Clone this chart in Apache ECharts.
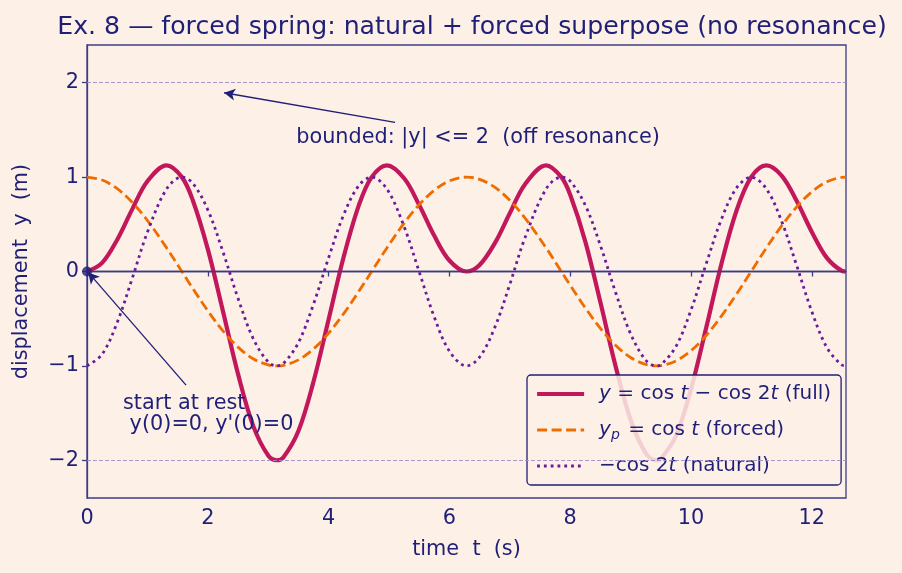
<!DOCTYPE html>
<html>
<head>
<meta charset="utf-8">
<script src="https://cdn.jsdelivr.net/npm/echarts@6/dist/echarts.min.js"></script>
<style>
  html, body { margin: 0; padding: 0; background: #fdf0e6; }
  #chart { width: 902px; height: 573px; }
</style>
</head>
<body>
<div id="chart"></div>
<script>
// time samples (s), extrema included
const tVals = [0, 0.25, 0.5, 0.75, 1, 1.3181, 1.5708, 1.75, 2, 2.25, 2.5, 2.75, 3, 3.1416,
  3.25, 3.5, 3.75, 4, 4.25, 4.5, 4.7124, 4.9651, 5.25, 5.5, 5.75, 6, 6.2832, 6.5, 6.75, 7,
  7.25, 7.6013, 7.854, 8, 8.25, 8.5, 8.75, 9, 9.25, 9.4248, 9.5, 9.75, 10, 10.25, 10.5,
  10.75, 10.9956, 11.2483, 11.5, 11.75, 12, 12.25, 12.5, 12.566]
// full response y
const fullVals = [0, 0.0913, 0.3373, 0.661, 0.9564, 1.125, 1, 0.7583, 0.2375, -0.4174,
  -1.0848, -1.633, -1.9502, -2, -1.9707, -1.6904, -1.1672, -0.5081, 0.1559, 0.7003, 1,
  1.125, 0.9876, 0.7043, 0.3777, 0.1163, 0, 0.0692, 0.298, 0.6172, 0.9229, 1.125, 1,
  0.8122, 0.3167, -0.3268, -1.0001, -1.5714, -1.9243, -2, -1.9859, -1.7434, -1.2472,
  -0.5991, 0.0722, 0.6386, 1, 1.125, 1.0161, 0.7469, 0.4197, 0.144, 0.0066, 0]
// forced part y_p
const forcedVals = [1, 0.9689, 0.8776, 0.7317, 0.5403, 0.25, 0, -0.1782, -0.4161, -0.6282,
  -0.8011, -0.9243, -0.99, -1, -0.9941, -0.9365, -0.8206, -0.6536, -0.4461, -0.2108, 0,
  0.25, 0.5121, 0.7087, 0.861, 0.9602, 1, 0.9766, 0.893, 0.7539, 0.568, 0.25, 0, -0.1455,
  -0.3857, -0.602, -0.7807, -0.9111, -0.9848, -1, -0.9972, -0.9476, -0.8391, -0.6786,
  -0.4755, -0.2432, 0, 0.25, 0.4833, 0.685, 0.8439, 0.9504, 0.9978, 1]
// natural part
const naturalVals = [-1, -0.8776, -0.5403, -0.0707, 0.4161, 0.875, 1, 0.9365, 0.6536,
  0.2108, -0.2837, -0.7087, -0.9602, -1, -0.9766, -0.7539, -0.3466, 0.1455, 0.602, 0.9111,
  1, 0.875, 0.4755, -0.0044, -0.4833, -0.8439, -1, -0.9074, -0.595, -0.1367, 0.3549, 0.875,
  1, 0.9577, 0.7024, 0.2752, -0.2194, -0.6603, -0.9395, -1, -0.9887, -0.7958, -0.4081,
  0.0795, 0.5477, 0.8818, 1, 0.875, 0.5328, 0.0619, -0.4242, -0.8064, -0.9912, -1]
const xTicks = [0, 2, 4, 6, 8, 10, 12]
const yTicks = [-2, -1, 0, 1, 2]
const refLines = [2, -2]

const navy = '#1f1f78'
const axisColor = '#3c3c86'
const font = 'DejaVu Sans'
const fs = 20.8

function pairs(ys) {
  return tVals.map((t, i) => [t, ys[i]])
}

const chart = echarts.init(document.getElementById('chart'))

const option = {
  backgroundColor: '#fdf0e6',
  animation: false,
  title: {
    text: 'Ex. 8 — forced spring: natural + forced superpose (no resonance)',
    left: 467,
    textAlign: 'center',
    top: 10,
    textStyle: { color: navy, fontFamily: font, fontSize: 25.2, fontWeight: 'normal' }
  },
  grid: {
    left: 87, right: 56, top: 45, bottom: 75,
    show: true, borderColor: axisColor, borderWidth: 1.3, backgroundColor: 'transparent'
  },
  legend: {
    orient: 'vertical',
    left: 527, top: 375,
    padding: [7, 10, 7, 8],
    itemWidth: 47, itemHeight: 14, itemGap: 12,
    backgroundColor: 'rgba(253,240,230,0.85)',
    borderColor: navy, borderWidth: 1.3, borderRadius: 4,
    itemStyle: { opacity: 0 },
    data: [
      { name: 'full', lineStyle: { width: 4.2 } },
      { name: 'forced', lineStyle: { width: 2.8 } },
      { name: 'natural', lineStyle: { width: 2.8 } }
    ],
    formatter: name => {
      if (name === 'full') return '{i|y} = cos {i|t} − cos 2{i|t} (full)'
      if (name === 'forced') return '{i|y}{s|p} = cos {i|t} (forced)'
      return '−cos 2{i|t} (natural)'
    },
    textStyle: {
      color: navy, fontFamily: font, fontSize: 20, lineHeight: 24, padding: [0, 0, 0, 10],
      rich: {
        i: { fontStyle: 'italic', color: navy, fontFamily: font, fontSize: 20 },
        s: { fontStyle: 'italic', color: navy, fontFamily: font, fontSize: 14, verticalAlign: 'bottom', padding: [8, 2, 0, 0] }
      }
    }
  },
  xAxis: {
    type: 'value', min: 0, max: 12.566,
    name: 'time  t  (s)', nameLocation: 'middle', nameGap: 41,
    nameTextStyle: { color: navy, fontFamily: font, fontSize: fs },
    axisLine: { lineStyle: { color: axisColor, width: 1.3 } },
    axisTick: { show: true, length: 5, customValues: xTicks, lineStyle: { color: axisColor, width: 1.3 } },
    axisLabel: { customValues: xTicks, color: navy, fontFamily: font, fontSize: fs, margin: 10 },
    splitLine: { show: false }
  },
  yAxis: {
    type: 'value', min: -2.4, max: 2.4,
    name: 'displacement  y  (m)', nameLocation: 'middle', nameGap: 55,
    nameTextStyle: { color: navy, fontFamily: font, fontSize: fs },
    axisLine: { show: true, lineStyle: { color: axisColor, width: 1.3 } },
    axisTick: { show: true, length: 5, customValues: yTicks, lineStyle: { color: axisColor, width: 1.3 } },
    axisLabel: {
      customValues: yTicks, color: navy, fontFamily: font, fontSize: fs, margin: 8,
      formatter: v => String(v).replace('-', '−')
    },
    splitLine: { show: false }
  },
  series: [
    {
      name: 'full', type: 'line', data: pairs(fullVals),
      smooth: 0.35, symbol: 'none', z: 3,
      color: '#c2185b',
      lineStyle: { color: '#c2185b', width: 4.2 },
      markLine: {
        silent: true, symbol: 'none', label: { show: false },
        data: refLines.map(v => ({
          yAxis: v, lineStyle: { color: '#9c8cc4', width: 0.9, type: [4, 2] }
        })).concat([{ yAxis: 0, lineStyle: { color: axisColor, width: 1.3, type: 'solid' } }])
      }
    },
    {
      name: 'forced', type: 'line', data: pairs(forcedVals),
      smooth: 0.35, symbol: 'none', z: 4,
      color: '#ef6c00',
      lineStyle: { color: '#ef6c00', width: 2.8, type: [10, 4.5] }
    },
    {
      name: 'natural', type: 'line', data: pairs(naturalVals),
      smooth: 0.35, symbol: 'none', z: 5,
      color: '#6a1b9a',
      lineStyle: { color: '#6a1b9a', width: 2.8, type: [2.8, 4] }
    },
    {
      // annotations: start point, arrows, text
      name: 'notes', type: 'scatter', data: [[0, 0]], z: 6,
      symbolSize: 10, clip: false, silent: true,
      itemStyle: { color: navy },
      markLine: {
        silent: true, symbol: ['none', 'arrow'], symbolSize: [9, 11],
        label: { show: false },
        lineStyle: { color: navy, width: 1.3, type: 'solid' },
        data: [
          [{ coord: [5.1, 1.58] }, { coord: [2.27, 1.894] }],
          [{ coord: [1.64, -1.204] }, { coord: [0.02, -0.01] }]
        ]
      },
      markPoint: {
        silent: true, symbol: 'circle', symbolSize: 1,
        itemStyle: { color: 'transparent' },
        label: { show: true, position: 'inside', color: navy, fontFamily: font, fontSize: fs },
        data: [
          { coord: [6.474, 1.416], label: { formatter: 'bounded: |y| <= 2  (off resonance)', align: 'center' } },
          { coord: [0.596, -1.507], label: { formatter: "start at rest\n y(0)=0, y'(0)=0", align: 'left', lineHeight: 21 } }
        ]
      }
    }
  ]
}

chart.setOption(option)
</script>
</body>
</html>
